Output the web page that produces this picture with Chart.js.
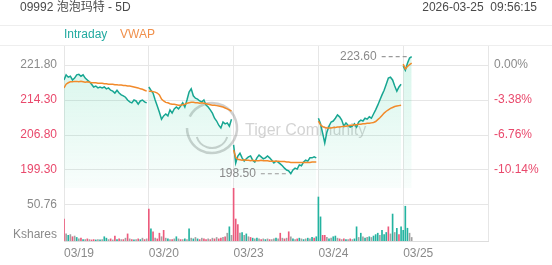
<!DOCTYPE html>
<html>
<head>
<meta charset="utf-8">
<script src="https://cdn.jsdelivr.net/npm/chart.js@4.4.1/dist/chart.umd.min.js"></script>
<style>
html,body{margin:0;padding:0;background:#fff;}
#wrap{position:relative;width:552px;height:265px;}
canvas{position:absolute;left:0;display:block;}
#priceChart{top:0;}
#volumeChart{top:188px;}
</style>
</head>
<body>
<div id="wrap">
<canvas id="priceChart" width="552" height="188"></canvas>
<canvas id="volumeChart" width="552" height="77"></canvas>
</div>
<script>

/* DATA */

const title = "09992 泡泡玛特 - 5D";
const stamp = "2026-03-25  09:56:15";
const days = ["03/19","03/20","03/23","03/24","03/25"];
const PER_DAY = 40;
const prevClose = 221.80;
const priceTicks = [221.80, 214.30, 206.80, 199.30];
const volTick = 50.76;

const price0319 = [218.6,219.7,219.2,219.4,218.6,219.0,219.7,219.8,219.4,219.7,219.0,218.6,218.2,217.7,217.1,217.3,216.9,217.1,216.9,217.1,216.7,216.9,216.4,216.2,215.8,216.4,215.8,215.4,215.2,214.9,214.3,213.9,213.7,214.3,214.1,213.4,214.1,214.3,213.9,213.7];
const price0320 = [217.1,216.4,215.8,214.3,213.0,211.7,210.2,210.9,211.3,210.9,212.2,211.5,212.4,212.8,212.4,213.0,213.7,212.8,214.3,216.0,216.7,215.2,214.7,214.5,214.1,213.9,214.3,213.2,212.8,212.2,211.5,210.4,209.8,208.9,208.3,209.6,209.2,209.4,208.7,210.2];
const price0323 = [204.7,200.8,202.3,202.9,201.9,201.2,201.7,202.1,202.3,201.4,201.0,201.9,202.5,202.1,201.7,201.9,202.3,201.9,201.4,200.8,201.2,201.0,200.6,200.2,199.7,199.3,199.1,198.5,199.3,199.7,199.5,200.4,200.2,201.0,201.4,201.2,201.9,201.9,202.1,201.9];
const price0324 = [210.4,209.2,207.2,205.1,207.4,208.7,209.6,209.8,210.4,211.1,210.7,210.0,208.7,209.4,208.9,208.5,208.7,209.2,208.5,209.6,210.0,209.8,210.4,210.2,210.7,210.4,211.3,212.2,213.2,214.3,215.4,216.4,217.7,219.0,219.2,218.6,217.3,216.2,217.1,217.7];
const price0325 = [221.6,220.7,222.2,223.3,223.6];

const vwap0319 = [216.9,217.7,218.0,218.2,218.2,218.3,218.3,218.2,218.3,218.2,218.1,218.2,218.1,218.0,218.0,218.0,217.9,217.9,217.9,217.8,217.8,217.7,217.7,217.7,217.6,217.6,217.5,217.5,217.4,217.4,217.3,217.3,217.2,217.1,217.0,216.9,216.7,216.6,216.4,216.2];
const vwap0320 = [216.2,216.2,216.1,216.0,215.8,215.4,214.5,214.1,213.8,213.7,213.5,213.4,213.4,213.3,213.2,213.2,213.3,213.4,213.6,213.7,213.8,213.8,213.7,213.7,213.6,213.7,213.6,213.5,213.4,213.3,213.2,213.2,213.1,213.0,212.9,212.8,212.6,212.4,212.2,211.9];
const vwap0323 = [203.6,202.0,201.6,201.5,201.4,201.5,201.4,201.4,201.3,201.4,201.3,201.3,201.3,201.4,201.3,201.3,201.3,201.2,201.2,201.2,201.2,201.2,201.1,201.1,201.1,201.0,201.0,200.9,200.9,200.9,200.9,200.9,200.9,200.9,200.9,200.9,200.9,201.0,201.0,201.0];
const vwap0324 = [209.8,209.0,208.6,208.4,208.3,208.3,208.3,208.4,208.4,208.5,208.5,208.6,208.7,208.7,208.8,208.9,208.9,209.0,209.0,209.1,209.1,209.2,209.2,209.3,209.3,209.4,209.5,209.7,210.1,210.5,211.0,211.5,211.9,212.2,212.5,212.7,212.9,213.0,213.1,213.2];
const vwap0325 = [222.0,221.0,221.5,221.9,222.2];

// volume in thousand shares
const vol0319 = [31,10,8,9,6,7,5,3,4,2,2,3,2,1.5,2,1.5,2,1.5,2,6,4,2,3,1.5,7,2,3,2,2,4,10,3,2,1.5,2,3,2,4,2,3];
const vol0320 = [45,17,13,4,3,11,6,15,4,3,2,2,3,6,3,2,2,3,2,17,4,3,5,3,2,4,3,2,3,2,4,3,5,3,4,5,6,11,20,8];
const vol0323 = [75,31,23,11,12,8,10,6,5,4,3,4,3,2,3,2,3,2,2,3,4,3,11,4,3,4,13,6,3,2,3,4,3,2,3,4,3,5,4,6];
const vol0324 = [62,34,8,8,5,3,4,6,7,4,3,2,3,2,2,3,2,3,20,5,11,6,4,5,6,5,7,9,11,8,15,9,12,20,10,38,12,18,9,20];
const vol0325 = [15,49,18,11,5];

// trade side of each volume bar: u = up, d = down, n = neutral
const side0319 = "dnundnundundnddununuundndudndndndundundn";
const side0320 = "dudnddndnundnundnunununudnddndndnddndnunun";
const side0323 = "dddnunundunundnundnnundndndnundunununudu";
const side0324 = "uuddnunuundndundnuununununuuunuuudnunudu";
const side0325 = "uuunn";

const priceDays = [price0319, price0320, price0323, price0324, price0325];
const vwapDays = [vwap0319, vwap0320, vwap0323, vwap0324, vwap0325];
const volDays = [vol0319, vol0320, vol0323, vol0324, vol0325];
const sideDays = [side0319, side0320, side0323, side0324, side0325];


/* HELPERS */

const TEAL = "#17a692";
const ORANGE = "#f28a2a";
const RED = "#e9496c";
const GREY = "#8a8a8a";
const GRID = "#e6e6e6";
const FONT = '"Liberation Sans", Arial, "Noto Sans CJK SC", sans-serif';

function lineData(list){
  const out = [];
  list.forEach((vals,d)=>{
    vals.forEach((v,i)=>out.push({x:d*PER_DAY+i, y:v}));
    out.push({x:d*PER_DAY+PER_DAY-0.5, y:null});
  });
  return out;
}

const volData = [];
const volColors = [];
volDays.forEach((vals,d)=>{
  vals.forEach((v,i)=>{
    volData.push({x:d*PER_DAY+i, y:v});
    const s = sideDays[d][i];
    volColors.push(s==="u" ? "#23b3a0" : s==="d" ? "#ec5a7c" : "#a2a2a2");
  });
});

const allPrices = priceDays.flat();
const hi = Math.max(...allPrices);
const lo = Math.min(...allPrices);

// fixed axis width, no extra label padding
function fixWidth(w){ return s => { s.width = w; s.paddingTop = 0; s.paddingBottom = 0; }; }

function xAxis(showLabels){
  return {
    type:"linear",
    min:0,
    max:PER_DAY*5,
    offset:false,
    afterBuildTicks:s=>{ s.ticks = [0,1,2,3,4,5].map(i=>({value:i*PER_DAY})); },
    afterFit:s=>{ s.height = showLabels ? 24 : 0; s.paddingLeft = 0; s.paddingRight = 0; },
    grid:{color:GRID,drawTicks:false,offset:false},
    border:{display:showLabels,color:"#dddddd"},
    ticks:{
      display:showLabels,
      color:GREY,
      align:"start",
      padding:5,
      maxRotation:0,
      autoSkip:false,
      callback:(v,i)=>days[i] || ""
    }
  };
}


/* PRICE PANEL DECORATION */

const priceDeco = {
  id:"priceDeco",
  beforeDatasetsDraw(chart){
    const c = chart.ctx;
    c.save();
    // watermark
    c.strokeStyle = "rgba(150,150,150,0.45)";
    c.lineWidth = 2.5;
    c.beginPath();
    c.arc(212,128,25,Math.PI*1.15,Math.PI*3.0);
    c.stroke();
    c.lineWidth = 2;
    c.beginPath();
    c.arc(212,132,16,Math.PI*0.1,Math.PI*0.9);
    c.stroke();
    c.font = "16px " + FONT;
    c.fillStyle = "rgba(150,150,150,0.42)";
    c.textBaseline = "middle";
    c.fillText("Tiger Community",245,131);
    c.restore();
  },
  afterDraw(chart){
    const c = chart.ctx;
    c.save();
    c.strokeStyle = "#eeeeee";
    c.lineWidth = 1;
    c.beginPath();
    c.moveTo(0,25.5); c.lineTo(552,25.5);
    c.moveTo(0,45.5); c.lineTo(552,45.5);
    c.stroke();

    c.font = "12px " + FONT;
    c.textBaseline = "middle";
    c.fillStyle = "#4a4a4a";
    c.textAlign = "left";
    c.fillText(title,20,8);
    c.textAlign = "right";
    c.fillText(stamp,537,8);

    c.textAlign = "left";
    c.fillStyle = "#22aaa0";
    c.fillText("Intraday",64,35);
    c.fillStyle = "#f0904c";
    c.fillText("VWAP",120,35);

    // high / low markers
    const pts = chart.getDatasetMeta(0).data;
    const vals = chart.data.datasets[0].data;
    [hi,lo].forEach(target=>{
      const k = vals.findIndex(p=>p.y===target);
      if(k<0) return;
      const px = pts[k].x, py = pts[k].y;
      c.strokeStyle = "#9a9a9a";
      c.setLineDash([4,3]);
      c.lineWidth = 1.2;
      c.beginPath();
      c.moveTo(px-30,py); c.lineTo(px-2,py);
      c.stroke();
      c.setLineDash([]);
      c.fillStyle = GREY;
      c.textAlign = "right";
      c.fillText(target.toFixed(2),px-35,py);
    });
    c.restore();
  }
};

const volDeco = {
  id:"volDeco",
  afterDraw(chart){
    const c = chart.ctx;
    c.save();
    c.font = "12px " + FONT;
    c.textBaseline = "middle";
    c.fillStyle = GREY;
    c.textAlign = "right";
    c.fillText("Kshares",57,chart.chartArea.bottom-6);
    c.restore();
  }
};


/* CHARTS */

Chart.defaults.font.family = FONT;
Chart.defaults.font.size = 12;

/* PRICE */

new Chart(
document.getElementById("priceChart"),
{
type:"line",
data:{
datasets:[
{
label:"Intraday",
data:lineData(priceDays),
yAxisID:"y",
borderColor:TEAL,
borderWidth:1.5,
pointRadius:0,
tension:0,
order:1,
fill:"start",
backgroundColor:(ctx)=>{
  const chart = ctx.chart;
  const y = chart.scales.y;
  if(!chart.chartArea || !y || !isFinite(y.top) || !isFinite(y.bottom) || y.bottom<=y.top) return "rgba(40,205,150,0.1)";
  const g = chart.ctx.createLinearGradient(0,y.top,0,y.bottom);
  g.addColorStop(0,"rgba(40,205,150,0.20)");
  g.addColorStop(1,"rgba(40,205,150,0.03)");
  return g;
}
},
{
label:"VWAP",
data:lineData(vwapDays),
yAxisID:"y",
borderColor:ORANGE,
borderWidth:1.5,
pointRadius:0,
tension:0,
order:0,
fill:false
}
]
},
options:{
responsive:false,
animation:false,
events:[],
layout:{padding:{top:45,left:0,right:0,bottom:0}},
plugins:{legend:{display:false},tooltip:{enabled:false}},
scales:{
x:xAxis(false),
y:{
position:"left",
min:195.44,
max:226.1,
afterBuildTicks:s=>{ s.ticks = priceTicks.map(v=>({value:v})); },
afterFit:fixWidth(64),
grid:{color:GRID,drawTicks:false},
border:{display:false},
ticks:{
padding:7,
color:ctx=>ctx.tick && ctx.tick.value===prevClose ? GREY : RED,
callback:v=>v.toFixed(2)
}
},
yp:{
position:"right",
min:195.44,
max:226.1,
afterBuildTicks:s=>{ s.ticks = priceTicks.map(v=>({value:v})); },
afterFit:fixWidth(64),
grid:{display:false,drawTicks:false},
border:{display:false},
ticks:{
padding:6,
color:ctx=>ctx.tick && ctx.tick.value===prevClose ? GREY : RED,
callback:v=>((v/prevClose-1)*100).toFixed(2)+"%"
}
}
}
},
plugins:[priceDeco]
}
);

/* VOLUME */

new Chart(
document.getElementById("volumeChart"),
{
type:"line",
data:{
datasets:[
{
type:"bar",
label:"Volume",
data:volData,
yAxisID:"yv",
backgroundColor:volColors,
barThickness:1,
borderWidth:0
}
]
},
options:{
responsive:false,
animation:false,
events:[],
layout:{padding:0},
plugins:{legend:{display:false},tooltip:{enabled:false}},
scales:{
x:xAxis(true),
yv:{
position:"left",
min:0,
max:74.7,
afterBuildTicks:s=>{ s.ticks = [{value:volTick}]; },
afterFit:fixWidth(64),
grid:{color:GRID,drawTicks:false},
border:{display:false},
ticks:{padding:7,color:GREY,callback:v=>v.toFixed(2)}
},
yr:{
position:"right",
min:0,
max:1,
afterFit:fixWidth(64),
grid:{display:false,drawTicks:false},
border:{display:false},
ticks:{display:false}
}
}
},
plugins:[volDeco]
}
);

</script>
</body>
</html>
